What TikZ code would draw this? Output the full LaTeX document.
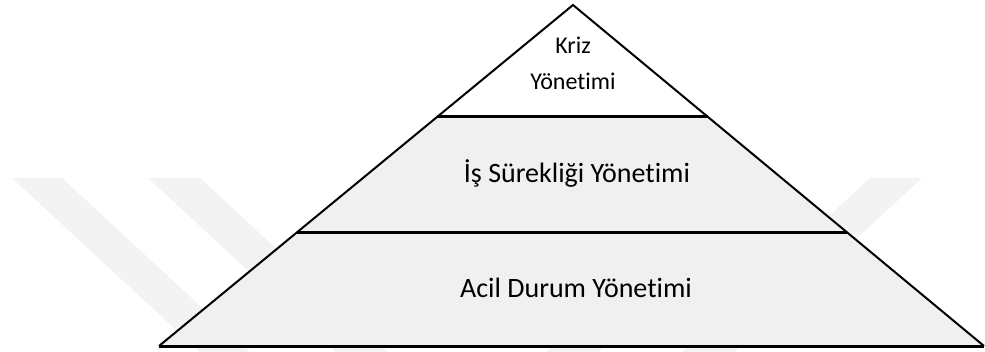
\documentclass[tikz,border=0pt]{standalone}
\usepackage{fontspec}
\setmainfont{Carlito}[Ligatures=NoCommon]
\usetikzlibrary{calc}
\definecolor{katmangri}{HTML}{F0F0F0}
\definecolor{filigran}{HTML}{F3F3F3}

\begin{document}
\begin{tikzpicture}[x=0.5pt, y=-0.5pt]
  \useasboundingbox (0,0) rectangle (985,352);
  % Filigran
  \begin{scope}
    \clip (0,0) rectangle (985,352);
    \fill[filigran] (12,178) -- (62,178) -- (278,378) -- (228,378) -- cycle;
    \fill[filigran] (148,178) -- (200,178) -- (416,378) -- (364,378) -- cycle;
    \fill[filigran] (734,178) -- (786,178) -- (570,378) -- (518,378) -- cycle;
    \fill[filigran] (870,178) -- (922,178) -- (706,378) -- (654,378) -- cycle;
  \end{scope}
  % Piramit koseleri
  \coordinate (tepe) at (573,5);
  \coordinate (solalt) at (159,346);
  \coordinate (sagalt) at (984,346);
  \coordinate (sol1) at ($(tepe)!0.3284!(solalt)$);
  \coordinate (sag1) at ($(tepe)!0.3284!(sagalt)$);
  \coordinate (sol2) at ($(tepe)!0.6657!(solalt)$);
  \coordinate (sag2) at ($(tepe)!0.6657!(sagalt)$);
  % Katmanlar
  \fill[white] (tepe) -- (sag1) -- (sol1) -- cycle;
  \fill[katmangri] (sol1) -- (sag1) -- (sagalt) -- (solalt) -- cycle;
  \draw[line width=1pt] (solalt) -- (tepe) -- (sagalt);
  \draw[line width=1.5pt] (sol1) -- (sag1);
  \draw[line width=1.5pt] (sol2) -- (sag2);
  \draw[line width=1.5pt] (solalt) -- (sagalt);
  % Etiketler
  \node[font=\fontsize{12}{18}\selectfont, align=center] (kriz) at (573,63) {Kriz\\Yönetimi};
  \node[font=\fontsize{14}{17}\selectfont] (surek) at (577,173) {İş Sürekliği Yönetimi};
  \node[font=\fontsize{14}{17}\selectfont] (acil) at (576,288) {Acil Durum Yönetimi};
\end{tikzpicture}
\end{document}
